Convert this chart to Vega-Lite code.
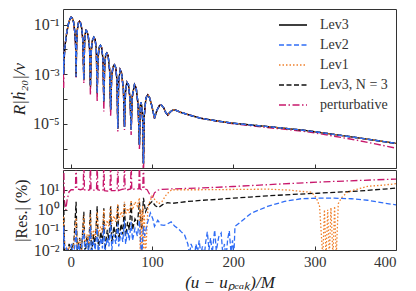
{
"$schema": "https://vega.github.io/schema/vega-lite/v6.json",
"background": "white",
"padding": {"left": 9, "top": 8, "right": 21, "bottom": 2},
"spacing": 0,
"config": {
  "view": {"stroke": "#333", "strokeWidth": 1},
  "axis": {"labelFont": "Liberation Serif", "titleFont": "Liberation Serif", "labelColor": "#333", "titleColor": "#222", "grid": false, "domain": false, "tickColor": "#333", "tickSize": -4, "labelFontSize": 15, "titleFontWeight": "normal", "labelPadding": 8},
  "legend": {"labelFont": "Liberation Serif", "labelFontSize": 14, "labelColor": "#333"}
},
"resolve": {"scale": {"color": "independent", "strokeDash": "independent", "x": "shared"}},
"vconcat": [
{
  "width": 333, "height": 159,
  "data": {"values": [
{"x":-10,"L3":0.0126,"L2":0.0126,"L1":0.0126,"N3":0.0126,"P":0.0126},
{"x":-9.3,"L3":3.98e-3,"L2":3.98e-3,"L1":3.98e-3,"N3":3.98e-3,"P":2.5e-3},
{"x":-8.7,"L3":1.0e-3,"L2":1.0e-3,"L1":1.0e-3,"N3":1.0e-3,"P":2.82e-4},
{"x":-8.0,"L3":5.01e-3,"L2":5.01e-3,"L1":5.01e-3,"N3":5.01e-3,"P":4.0e-3},
{"x":-7,"L3":0.0141,"L2":0.0141,"L1":0.0141,"N3":0.0141,"P":0.0141},
{"x":-5,"L3":0.0447,"L2":0.0447,"L1":0.0447,"N3":0.0447,"P":0.0447},
{"x":-3,"L3":0.1,"L2":0.1,"L1":0.1,"N3":0.1,"P":0.1},
{"x":-1,"L3":0.166,"L2":0.166,"L1":0.166,"N3":0.166,"P":0.166},
{"x":0.5,"L3":0.1995,"L2":0.1995,"L1":0.1995,"N3":0.1995,"P":0.1995},
{"x":2,"L3":0.178,"L2":0.178,"L1":0.178,"N3":0.178,"P":0.178},
{"x":3.5,"L3":0.126,"L2":0.126,"L1":0.126,"N3":0.126,"P":0.126},
{"x":5,"L3":0.0501,"L2":0.0501,"L1":0.0501,"N3":0.0501,"P":0.0501},
{"x":6.0,"L3":0.0158,"L2":0.0158,"L1":0.0158,"N3":0.0158,"P":0.013},
{"x":6.6,"L3":8.13e-4,"L2":8.13e-4,"L1":8.13e-4,"N3":8.13e-4,"P":6.92e-4},
{"x":7.2,"L3":0.0158,"L2":0.0158,"L1":0.0158,"N3":0.0158,"P":0.013},
{"x":8.2,"L3":0.0631,"L2":0.0631,"L1":0.0631,"N3":0.0631,"P":0.0631},
{"x":9.5,"L3":0.1175,"L2":0.1175,"L1":0.1175,"N3":0.1175,"P":0.1175},
{"x":10.7,"L3":0.135,"L2":0.135,"L1":0.135,"N3":0.135,"P":0.135},
{"x":12,"L3":0.1175,"L2":0.1175,"L1":0.1175,"N3":0.1175,"P":0.1175},
{"x":13.5,"L3":0.0708,"L2":0.0708,"L1":0.0708,"N3":0.0708,"P":0.0708},
{"x":15,"L3":0.0224,"L2":0.0224,"L1":0.0224,"N3":0.0224,"P":0.02},
{"x":16.1,"L3":6.03e-4,"L2":6.03e-4,"L1":6.03e-4,"N3":6.03e-4,"P":4.37e-4},
{"x":17.0,"L3":0.0178,"L2":0.0178,"L1":0.0178,"N3":0.0178,"P":0.016},
{"x":18,"L3":0.0447,"L2":0.0447,"L1":0.0447,"N3":0.0447,"P":0.0447},
{"x":18.9,"L3":0.0575,"L2":0.0575,"L1":0.0575,"N3":0.0575,"P":0.0575},
{"x":20,"L3":0.0525,"L2":0.0525,"L1":0.0525,"N3":0.0525,"P":0.0525},
{"x":21.5,"L3":0.0355,"L2":0.0355,"L1":0.0355,"N3":0.0355,"P":0.0355},
{"x":23.2,"L3":0.0112,"L2":0.0112,"L1":0.0112,"N3":0.0112,"P":0.01},
{"x":24.2,"L3":3.24e-4,"L2":3.24e-4,"L1":3.24e-4,"N3":3.24e-4,"P":1.48e-4},
{"x":25.2,"L3":7.94e-3,"L2":7.94e-3,"L1":7.94e-3,"N3":7.94e-3,"P":7.0e-3},
{"x":26.5,"L3":0.0224,"L2":0.0224,"L1":0.0224,"N3":0.0224,"P":0.0224},
{"x":28.4,"L3":0.0309,"L2":0.0309,"L1":0.0309,"N3":0.0309,"P":0.0309},
{"x":30,"L3":0.0251,"L2":0.0251,"L1":0.0251,"N3":0.0251,"P":0.0251},
{"x":31.5,"L3":0.01,"L2":0.01,"L1":0.01,"N3":0.01,"P":9e-3},
{"x":32.5,"L3":1.74e-4,"L2":1.74e-4,"L1":1.74e-4,"N3":1.74e-4,"P":7.94e-5},
{"x":33.5,"L3":4.47e-3,"L2":4.47e-3,"L1":4.47e-3,"N3":4.47e-3,"P":4.0e-3},
{"x":35,"L3":0.012,"L2":0.012,"L1":0.012,"N3":0.012,"P":0.012},
{"x":36.5,"L3":0.0145,"L2":0.0145,"L1":0.0145,"N3":0.0145,"P":0.0145},
{"x":38,"L3":0.012,"L2":0.012,"L1":0.012,"N3":0.012,"P":0.012},
{"x":39.7,"L3":3.98e-3,"L2":3.98e-3,"L1":3.98e-3,"N3":3.98e-3,"P":3.5e-3},
{"x":40.7,"L3":7.94e-5,"L2":7.94e-5,"L1":7.94e-5,"N3":7.94e-5,"P":3.16e-5},
{"x":41.7,"L3":2.24e-3,"L2":2.24e-3,"L1":2.24e-3,"N3":2.24e-3,"P":2.0e-3},
{"x":43,"L3":6.03e-3,"L2":6.03e-3,"L1":6.03e-3,"N3":6.03e-3,"P":6.03e-3},
{"x":44.4,"L3":7.08e-3,"L2":7.08e-3,"L1":7.08e-3,"N3":7.08e-3,"P":7.08e-3},
{"x":46,"L3":5.62e-3,"L2":5.62e-3,"L1":5.62e-3,"N3":5.62e-3,"P":5.62e-3},
{"x":47.8,"L3":1.58e-3,"L2":1.58e-3,"L1":1.58e-3,"N3":1.58e-3,"P":1.4e-3},
{"x":49.1,"L3":3.8e-5,"L2":3.8e-5,"L1":3.8e-5,"N3":3.8e-5,"P":2.0e-5},
{"x":50.3,"L3":7.94e-4,"L2":7.94e-4,"L1":7.94e-4,"N3":7.94e-4,"P":7.0e-4},
{"x":52,"L3":2.0e-3,"L2":2.0e-3,"L1":2.0e-3,"N3":2.0e-3,"P":2.0e-3},
{"x":53.8,"L3":2.4e-3,"L2":2.4e-3,"L1":2.4e-3,"N3":2.4e-3,"P":2.4e-3},
{"x":55.5,"L3":1.78e-3,"L2":1.78e-3,"L1":1.78e-3,"N3":1.78e-3,"P":1.78e-3},
{"x":57,"L3":5.01e-4,"L2":5.01e-4,"L1":5.01e-4,"N3":5.01e-4,"P":4.5e-4},
{"x":57.9,"L3":6.61e-6,"L2":6.61e-6,"L1":6.61e-6,"N3":6.61e-6,"P":5.0e-6},
{"x":58.9,"L3":5.01e-4,"L2":5.01e-4,"L1":5.01e-4,"N3":5.01e-4,"P":4.5e-4},
{"x":60.8,"L3":1.51e-3,"L2":1.51e-3,"L1":1.51e-3,"N3":1.51e-3,"P":1.51e-3},
{"x":62.5,"L3":1.12e-3,"L2":1.12e-3,"L1":1.12e-3,"N3":1.12e-3,"P":1.12e-3},
{"x":64.8,"L3":2.51e-4,"L2":2.51e-4,"L1":2.51e-4,"N3":2.51e-4,"P":2.2e-4},
{"x":66.1,"L3":7.76e-6,"L2":7.76e-6,"L1":7.76e-6,"N3":7.76e-6,"P":5.75e-6},
{"x":67.3,"L3":1.78e-4,"L2":1.78e-4,"L1":1.78e-4,"N3":1.78e-4,"P":1.6e-4},
{"x":69,"L3":4.79e-4,"L2":4.79e-4,"L1":4.79e-4,"N3":4.79e-4,"P":4.79e-4},
{"x":71,"L3":3.8e-4,"L2":3.8e-4,"L1":3.8e-4,"N3":3.8e-4,"P":3.8e-4},
{"x":73,"L3":1.0e-4,"L2":1.0e-4,"L1":1.0e-4,"N3":1.0e-4,"P":9e-5},
{"x":74.3,"L3":5.89e-6,"L2":5.89e-6,"L1":5.89e-6,"N3":5.89e-6,"P":3.63e-6},
{"x":75.6,"L3":1.26e-4,"L2":1.26e-4,"L1":1.26e-4,"N3":1.26e-4,"P":1.1e-4},
{"x":78.4,"L3":3.8e-4,"L2":3.8e-4,"L1":3.8e-4,"N3":3.8e-4,"P":3.8e-4},
{"x":80.5,"L3":2.82e-4,"L2":2.82e-4,"L1":2.82e-4,"N3":2.82e-4,"P":2.82e-4},
{"x":82.8,"L3":6.31e-5,"L2":6.31e-5,"L1":6.31e-5,"N3":6.31e-5,"P":5.5e-5},
{"x":84.5,"L3":1.45e-6,"L2":1.45e-6,"L1":1.45e-6,"N3":1.45e-6,"P":8.91e-7},
{"x":85.6,"L3":5.62e-5,"L2":5.62e-5,"L1":5.62e-5,"N3":5.62e-5,"P":5.0e-5},
{"x":86.4,"L3":7.59e-5,"L2":7.59e-5,"L1":7.59e-5,"N3":7.59e-5,"P":7.0e-5},
{"x":87.5,"L3":5.01e-5,"L2":5.01e-5,"L1":5.01e-5,"N3":5.01e-5,"P":4.5e-5},
{"x":88.6,"L3":1.26e-5,"L2":1.26e-5,"L1":1.26e-5,"N3":1.26e-5,"P":1.1e-5},
{"x":89.4,"L3":2.57e-7,"L2":2.57e-7,"L1":2.57e-7,"N3":2.57e-7,"P":3e-8},
{"x":90.3,"L3":2.0e-5,"L2":2.0e-5,"L1":2.0e-5,"N3":2.0e-5,"P":1.8e-5},
{"x":92.5,"L3":1.12e-4,"L2":1.12e-4,"L1":1.12e-4,"N3":1.12e-4,"P":1.12e-4},
{"x":94.8,"L3":1.48e-4,"L2":1.48e-4,"L1":1.48e-4,"N3":1.48e-4,"P":1.48e-4},
{"x":97,"L3":1.12e-4,"L2":1.12e-4,"L1":1.12e-4,"N3":1.12e-4,"P":1.12e-4},
{"x":100,"L3":5.01e-5,"L2":5.01e-5,"L1":5.01e-5,"N3":5.01e-5,"P":5.01e-5},
{"x":103,"L3":1.7e-5,"L2":1.7e-5,"L1":1.7e-5,"N3":1.7e-5,"P":1.7e-5},
{"x":106,"L3":3.55e-5,"L2":3.55e-5,"L1":3.55e-5,"N3":3.55e-5,"P":3.55e-5},
{"x":109,"L3":5.5e-5,"L2":5.5e-5,"L1":5.5e-5,"N3":5.5e-5,"P":5.5e-5},
{"x":111.2,"L3":5.89e-5,"L2":5.89e-5,"L1":5.89e-5,"N3":5.89e-5,"P":5.89e-5},
{"x":114,"L3":4.68e-5,"L2":4.68e-5,"L1":4.68e-5,"N3":4.68e-5,"P":4.68e-5},
{"x":117,"L3":2.82e-5,"L2":2.82e-5,"L1":2.82e-5,"N3":2.82e-5,"P":2.82e-5},
{"x":119.4,"L3":2.29e-5,"L2":2.29e-5,"L1":2.29e-5,"N3":2.29e-5,"P":2.29e-5},
{"x":122,"L3":2.95e-5,"L2":2.95e-5,"L1":2.95e-5,"N3":2.95e-5,"P":2.95e-5},
{"x":125,"L3":3.55e-5,"L2":3.55e-5,"L1":3.55e-5,"N3":3.55e-5,"P":3.55e-5},
{"x":127.6,"L3":3.72e-5,"L2":3.72e-5,"L1":3.72e-5,"N3":3.72e-5,"P":3.72e-5},
{"x":131,"L3":3.39e-5,"L2":3.39e-5,"L1":3.39e-5,"N3":3.39e-5,"P":3.39e-5},
{"x":135,"L3":2.95e-5,"L2":2.95e-5,"L1":2.95e-5,"N3":2.95e-5,"P":2.95e-5},
{"x":140,"L3":2.63e-5,"L2":2.63e-5,"L1":2.63e-5,"N3":2.63e-5,"P":2.63e-5},
{"x":150,"L3":2.09e-5,"L2":2.09e-5,"L1":2.09e-5,"N3":2.09e-5,"P":2.09e-5},
{"x":160,"L3":1.7e-5,"L2":1.7e-5,"L1":1.7e-5,"N3":1.7e-5,"P":1.7e-5},
{"x":180,"L3":1.32e-5,"L2":1.32e-5,"L1":1.32e-5,"N3":1.32e-5,"P":1.3e-5},
{"x":200,"L3":1.07e-5,"L2":1.07e-5,"L1":1.07e-5,"N3":1.07e-5,"P":1.02e-5},
{"x":250,"L3":7.41e-6,"L2":7.41e-6,"L1":7.41e-6,"N3":7.41e-6,"P":6.76e-6},
{"x":283,"L3":5.75e-6,"L2":5.75e-6,"L1":5.75e-6,"N3":5.75e-6,"P":5.25e-6},
{"x":300,"L3":4.9e-6,"L2":4.9e-6,"L1":4.9e-6,"N3":4.9e-6,"P":4.4e-6},
{"x":350,"L3":2.88e-6,"L2":2.88e-6,"L1":2.88e-6,"N3":2.88e-6,"P":2.3e-6},
{"x":400,"L3":1.66e-6,"L2":1.66e-6,"L1":1.66e-6,"N3":1.66e-6,"P":1.07e-6}
  ]},
  "transform": [{"fold": ["P", "N3", "L3", "L1", "L2"], "as": ["s", "v"]}],
  "mark": {"type": "line", "clip": true, "strokeWidth": 1.4},
  "encoding": {
    "x": {"field": "x", "type": "quantitative", "scale": {"domain": [-9.5, 400], "nice": false, "zero": false}, "axis": {"values": [0, 100, 200, 300, 400], "labels": false, "title": null, "minExtent": 0, "maxExtent": 0}},
    "y": {"field": "v", "type": "quantitative", "scale": {"type": "log", "domain": [1.7e-7, 0.42], "nice": false}, "axis": {"values": [1e-6, 1e-5, 1e-4, 1e-3, 1e-2, 1e-1], "labelFontSize": 16, "labelExpr": "datum.value > 0.05 ? '10⁻¹' : (datum.value > 0.0005 && datum.value < 0.005) ? '10⁻³' : (datum.value > 0.000005 && datum.value < 0.00005) ? '10⁻⁵' : ''", "title": "R|ḣ₂₀|/ν", "titleFontSize": 17, "titleFontStyle": "italic", "titlePadding": 4}},
    "color": {"field": "s", "type": "nominal", "scale": {"domain": ["L3", "L2", "L1", "N3", "P"], "range": ["#000000", "#2f6df6", "#f0802c", "#111111", "#c8186c"]},
      "legend": {"orient": "top-right", "offset": 8, "title": null, "symbolType": "M-2,0H2", "symbolSize": 196, "symbolStrokeWidth": 1.6, "labelOffset": 19, "rowPadding": 5, "labelExpr": "datum.label == 'L3' ? 'Lev3' : datum.label == 'L2' ? 'Lev2' : datum.label == 'L1' ? 'Lev1' : datum.label == 'N3' ? 'Lev3, N = 3' : 'perturbative'"}},
    "strokeDash": {"field": "s", "type": "nominal", "scale": {"domain": ["L3", "L2", "L1", "N3", "P"], "range": [[1, 0], [5, 2.5], [1.5, 2], [5, 2.5], [7, 2.5, 1.5, 2.5]]},
      "legend": {"orient": "top-right", "offset": 8, "title": null, "symbolType": "M-2,0H2", "symbolSize": 196, "symbolStrokeWidth": 1.6, "labelOffset": 19, "rowPadding": 5, "labelExpr": "datum.label == 'L3' ? 'Lev3' : datum.label == 'L2' ? 'Lev2' : datum.label == 'L1' ? 'Lev1' : datum.label == 'N3' ? 'Lev3, N = 3' : 'perturbative'"}}
  }
},
{
  "width": 333, "height": 80,
  "data": {"values": [
{"s":"P","x":-9.5,"v":300},{"s":"P","x":-8.7,"v":300},{"s":"P","x":-7.8,"v":3},{"s":"P","x":-6,"v":1.0},{"s":"P","x":-4.5,"v":3},{"s":"P","x":-2,"v":8},{"s":"P","x":0.5,"v":10},{"s":"P","x":4,"v":10},{"s":"P","x":5.8,"v":12},{"s":"P","x":6.6,"v":300},{"s":"P","x":7.4,"v":11},{"s":"P","x":12,"v":10},{"s":"P","x":15.3,"v":11},{"s":"P","x":16.1,"v":300},{"s":"P","x":16.9,"v":10},{"s":"P","x":20,"v":9},{"s":"P","x":23.4,"v":10},{"s":"P","x":24.2,"v":300},{"s":"P","x":25,"v":10},{"s":"P","x":29,"v":9.5},{"s":"P","x":31.7,"v":10},{"s":"P","x":32.5,"v":300},{"s":"P","x":33.3,"v":10},{"s":"P","x":37,"v":9},{"s":"P","x":39.9,"v":10},{"s":"P","x":40.7,"v":300},{"s":"P","x":41.5,"v":9},{"s":"P","x":45,"v":8.5},{"s":"P","x":48.3,"v":9},{"s":"P","x":49.1,"v":300},{"s":"P","x":49.9,"v":9},{"s":"P","x":54,"v":9},{"s":"P","x":57.1,"v":10},{"s":"P","x":57.9,"v":300},{"s":"P","x":58.7,"v":9},{"s":"P","x":62,"v":10},{"s":"P","x":65.3,"v":11},{"s":"P","x":66.1,"v":300},{"s":"P","x":66.9,"v":10},{"s":"P","x":70,"v":10},{"s":"P","x":73.5,"v":11},{"s":"P","x":74.3,"v":300},{"s":"P","x":75.1,"v":10},{"s":"P","x":79,"v":11},{"s":"P","x":83.7,"v":11},{"s":"P","x":84.5,"v":300},{"s":"P","x":85.3,"v":11},{"s":"P","x":87,"v":10},{"s":"P","x":88.6,"v":11},{"s":"P","x":89.4,"v":300},{"s":"P","x":90.2,"v":11},{"s":"P","x":94,"v":10},{"s":"P","x":97,"v":6},{"s":"P","x":100,"v":3.5},{"s":"P","x":103,"v":7},{"s":"P","x":107,"v":9.5},{"s":"P","x":112,"v":10.5},{"s":"P","x":125,"v":11},{"s":"P","x":160,"v":12.2},{"s":"P","x":200,"v":14.5},{"s":"P","x":242,"v":17.8},{"s":"P","x":280,"v":21.5},{"s":"P","x":324,"v":26},{"s":"P","x":360,"v":29.5},{"s":"P","x":400,"v":34},
{"s":"N3","x":-9.5,"v":0.3},{"s":"N3","x":-8.7,"v":3},{"s":"N3","x":-7.5,"v":0.01},{"s":"N3","x":-5,"v":0.004},{"s":"N3","x":-2,"v":0.02},{"s":"N3","x":1,"v":0.008},{"s":"N3","x":4,"v":0.03},{"s":"N3","x":6.6,"v":2.5},{"s":"N3","x":8,"v":0.01},{"s":"N3","x":11,"v":0.04},{"s":"N3","x":13,"v":0.006},{"s":"N3","x":16.1,"v":0.8},{"s":"N3","x":17.5,"v":0.005},{"s":"N3","x":20,"v":0.05},{"s":"N3","x":22,"v":0.01},{"s":"N3","x":24.2,"v":1.0},{"s":"N3","x":25.5,"v":0.006},{"s":"N3","x":28,"v":0.06},{"s":"N3","x":30,"v":0.015},{"s":"N3","x":32.5,"v":1.5},{"s":"N3","x":34,"v":0.01},{"s":"N3","x":37,"v":0.08},{"s":"N3","x":39,"v":0.02},{"s":"N3","x":40.7,"v":1.2},{"s":"N3","x":42,"v":0.01},{"s":"N3","x":45,"v":0.1},{"s":"N3","x":47,"v":0.03},{"s":"N3","x":49.1,"v":1.5},{"s":"N3","x":50.5,"v":0.02},{"s":"N3","x":53,"v":0.15},{"s":"N3","x":55.5,"v":0.04},{"s":"N3","x":57.9,"v":1.8},{"s":"N3","x":59,"v":0.03},{"s":"N3","x":62,"v":0.2},{"s":"N3","x":64,"v":0.06},{"s":"N3","x":66.1,"v":2.0},{"s":"N3","x":67.5,"v":0.05},{"s":"N3","x":70,"v":0.25},{"s":"N3","x":72,"v":0.1},{"s":"N3","x":74.3,"v":2.2},{"s":"N3","x":76,"v":0.1},{"s":"N3","x":79,"v":0.35},{"s":"N3","x":82,"v":0.2},{"s":"N3","x":84.5,"v":2.5},{"s":"N3","x":86,"v":0.3},{"s":"N3","x":87.5,"v":0.1},{"s":"N3","x":89.4,"v":4},{"s":"N3","x":92,"v":0.8},{"s":"N3","x":96,"v":1.8},{"s":"N3","x":100,"v":2.6},{"s":"N3","x":104,"v":1.6},{"s":"N3","x":108,"v":1.3},{"s":"N3","x":113,"v":1.8},{"s":"N3","x":119,"v":2.3},{"s":"N3","x":125,"v":2.1},{"s":"N3","x":132,"v":2.3},{"s":"N3","x":144,"v":2.6},{"s":"N3","x":160,"v":2.95},{"s":"N3","x":180,"v":3.3},{"s":"N3","x":200,"v":3.85},{"s":"N3","x":220,"v":4.3},{"s":"N3","x":242,"v":5.0},{"s":"N3","x":262,"v":5.5},{"s":"N3","x":283,"v":6.1},{"s":"N3","x":304,"v":6.7},{"s":"N3","x":324,"v":7.4},{"s":"N3","x":345,"v":8.2},{"s":"N3","x":365,"v":9.3},{"s":"N3","x":385,"v":10.8},{"s":"N3","x":400,"v":12},
{"s":"L1","x":-9.5,"v":0.05},{"s":"L1","x":-8.7,"v":0.5},{"s":"L1","x":-7.5,"v":0.02},{"s":"L1","x":-5,"v":0.008},{"s":"L1","x":-2,"v":0.015},{"s":"L1","x":1,"v":0.006},{"s":"L1","x":4,"v":0.02},{"s":"L1","x":6.6,"v":0.4},{"s":"L1","x":8,"v":0.015},{"s":"L1","x":11,"v":0.035},{"s":"L1","x":13,"v":0.01},{"s":"L1","x":16.1,"v":0.5},{"s":"L1","x":17.5,"v":0.02},{"s":"L1","x":20,"v":0.06},{"s":"L1","x":22,"v":0.02},{"s":"L1","x":24.2,"v":0.6},{"s":"L1","x":25.5,"v":0.03},{"s":"L1","x":28,"v":0.1},{"s":"L1","x":30,"v":0.04},{"s":"L1","x":32.5,"v":0.8},{"s":"L1","x":34,"v":0.06},{"s":"L1","x":37,"v":0.15},{"s":"L1","x":39,"v":0.07},{"s":"L1","x":40.7,"v":1.0},{"s":"L1","x":42,"v":0.1},{"s":"L1","x":45,"v":0.3},{"s":"L1","x":47,"v":0.15},{"s":"L1","x":49.1,"v":1.5},{"s":"L1","x":50.5,"v":0.2},{"s":"L1","x":53,"v":0.5},{"s":"L1","x":55.5,"v":0.25},{"s":"L1","x":57.9,"v":2},{"s":"L1","x":59,"v":0.3},{"s":"L1","x":62,"v":0.8},{"s":"L1","x":64,"v":0.4},{"s":"L1","x":66.1,"v":2.5},{"s":"L1","x":67.5,"v":0.6},{"s":"L1","x":70,"v":1.2},{"s":"L1","x":72,"v":0.7},{"s":"L1","x":74.3,"v":3},{"s":"L1","x":76,"v":1.0},{"s":"L1","x":79,"v":2.5},{"s":"L1","x":82,"v":1.5},{"s":"L1","x":84.5,"v":4},{"s":"L1","x":85.5,"v":0.004},{"s":"L1","x":86.5,"v":1},{"s":"L1","x":87.5,"v":0.004},{"s":"L1","x":88.5,"v":1.5},{"s":"L1","x":89.4,"v":0.004},{"s":"L1","x":90.5,"v":0.6},{"s":"L1","x":92,"v":0.004},{"s":"L1","x":95,"v":1.5},{"s":"L1","x":100,"v":4.8},{"s":"L1","x":104,"v":3},{"s":"L1","x":108,"v":2},{"s":"L1","x":112,"v":2.5},{"s":"L1","x":118,"v":6},{"s":"L1","x":124,"v":10},{"s":"L1","x":140,"v":10},{"s":"L1","x":160,"v":10},{"s":"L1","x":200,"v":10.3},{"s":"L1","x":242,"v":10.7},{"s":"L1","x":270,"v":9.5},{"s":"L1","x":283,"v":8.3},{"s":"L1","x":296,"v":7.5},{"s":"L1","x":302,"v":4},{"s":"L1","x":306,"v":1.5},{"s":"L1","x":310,"v":0.004},{"s":"L1","x":312,"v":1},{"s":"L1","x":314,"v":0.004},{"s":"L1","x":316,"v":1},{"s":"L1","x":318,"v":0.004},{"s":"L1","x":320,"v":1.3},{"s":"L1","x":322.5,"v":0.004},{"s":"L1","x":324.5,"v":1.5},{"s":"L1","x":326.5,"v":0.004},{"s":"L1","x":329,"v":2},{"s":"L1","x":333,"v":4},{"s":"L1","x":340,"v":7.5},{"s":"L1","x":350,"v":10},{"s":"L1","x":365,"v":14.8},{"s":"L1","x":385,"v":17},{"s":"L1","x":400,"v":20},
{"s":"L2","x":-9.5,"v":0.015},{"s":"L2","x":-8.7,"v":0.15},{"s":"L2","x":-7.5,"v":0.004},{"s":"L2","x":-5,"v":0.012},{"s":"L2","x":-2,"v":0.006},{"s":"L2","x":1,"v":0.02},{"s":"L2","x":3,"v":0.005},{"s":"L2","x":5,"v":0.015},{"s":"L2","x":6.6,"v":0.12},{"s":"L2","x":8,"v":0.004},{"s":"L2","x":10,"v":0.02},{"s":"L2","x":12,"v":0.006},{"s":"L2","x":14,"v":0.025},{"s":"L2","x":16.1,"v":0.1},{"s":"L2","x":17.5,"v":0.005},{"s":"L2","x":20,"v":0.03},{"s":"L2","x":22,"v":0.008},{"s":"L2","x":24.2,"v":0.15},{"s":"L2","x":25.5,"v":0.006},{"s":"L2","x":28,"v":0.03},{"s":"L2","x":30,"v":0.01},{"s":"L2","x":32.5,"v":0.12},{"s":"L2","x":34,"v":0.008},{"s":"L2","x":37,"v":0.04},{"s":"L2","x":39,"v":0.012},{"s":"L2","x":40.7,"v":0.18},{"s":"L2","x":42,"v":0.008},{"s":"L2","x":45,"v":0.04},{"s":"L2","x":47,"v":0.015},{"s":"L2","x":49.1,"v":0.25},{"s":"L2","x":50.5,"v":0.01},{"s":"L2","x":53,"v":0.06},{"s":"L2","x":55.5,"v":0.02},{"s":"L2","x":57.9,"v":0.2},{"s":"L2","x":59,"v":0.015},{"s":"L2","x":62,"v":0.08},{"s":"L2","x":64,"v":0.025},{"s":"L2","x":66.1,"v":0.3},{"s":"L2","x":67.5,"v":0.02},{"s":"L2","x":70,"v":0.1},{"s":"L2","x":72,"v":0.03},{"s":"L2","x":74.3,"v":0.25},{"s":"L2","x":76,"v":0.03},{"s":"L2","x":79,"v":0.12},{"s":"L2","x":82,"v":0.05},{"s":"L2","x":84.5,"v":0.3},{"s":"L2","x":86,"v":0.02},{"s":"L2","x":87.5,"v":0.006},{"s":"L2","x":89.4,"v":0.15},{"s":"L2","x":91,"v":0.05},{"s":"L2","x":94,"v":0.2},{"s":"L2","x":98,"v":0.7},{"s":"L2","x":101,"v":0.35},{"s":"L2","x":103,"v":0.15},{"s":"L2","x":107,"v":0.3},{"s":"L2","x":111,"v":0.18},{"s":"L2","x":115,"v":0.17},{"s":"L2","x":119,"v":0.2},{"s":"L2","x":123.5,"v":0.25},{"s":"L2","x":128,"v":0.15},{"s":"L2","x":132,"v":0.12},{"s":"L2","x":136,"v":0.08},{"s":"L2","x":140,"v":0.056},{"s":"L2","x":144,"v":0.02},{"s":"L2","x":146,"v":0.006},{"s":"L2","x":148,"v":0.02},{"s":"L2","x":150,"v":0.012},{"s":"L2","x":152,"v":0.004},{"s":"L2","x":154,"v":0.02},{"s":"L2","x":156,"v":0.008},{"s":"L2","x":158,"v":0.03},{"s":"L2","x":160,"v":0.006},{"s":"L2","x":162,"v":0.015},{"s":"L2","x":164,"v":0.004},{"s":"L2","x":166,"v":0.025},{"s":"L2","x":168,"v":0.08},{"s":"L2","x":170,"v":0.01},{"s":"L2","x":172,"v":0.04},{"s":"L2","x":174,"v":0.007},{"s":"L2","x":177,"v":0.1},{"s":"L2","x":179,"v":0.009},{"s":"L2","x":182,"v":0.045},{"s":"L2","x":185,"v":0.07},{"s":"L2","x":187,"v":0.006},{"s":"L2","x":189,"v":0.02},{"s":"L2","x":191,"v":0.004},{"s":"L2","x":193,"v":0.035},{"s":"L2","x":195,"v":0.09},{"s":"L2","x":197,"v":0.008},{"s":"L2","x":199,"v":0.03},{"s":"L2","x":200.5,"v":0.004},{"s":"L2","x":202,"v":0.15},{"s":"L2","x":210,"v":0.27},{"s":"L2","x":222,"v":0.68},{"s":"L2","x":242,"v":1.48},{"s":"L2","x":263,"v":2.63},{"s":"L2","x":283,"v":3.55},{"s":"L2","x":304,"v":3.8},{"s":"L2","x":324,"v":3.8},{"s":"L2","x":345,"v":3.55},{"s":"L2","x":365,"v":3.0},{"s":"L2","x":386,"v":2.14},{"s":"L2","x":400,"v":1.78}
  ]},
  "mark": {"type": "line", "clip": true, "strokeWidth": 1.3},
  "encoding": {
    "x": {"field": "x", "type": "quantitative", "scale": {"domain": [-9.5, 400], "nice": false, "zero": false}, "axis": {"values": [0, 100, 200, 300, 400], "labelPadding": 8, "title": "(u − uₚₑₐₖ)/M", "titleFontSize": 17, "titleFontStyle": "italic", "titlePadding": 5}},
    "y": {"field": "v", "type": "quantitative", "scale": {"type": "log", "domain": [0.01, 96], "nice": false}, "axis": {"values": [0.01, 0.1, 1, 10], "labelFontSize": 16, "labelExpr": "datum.value < 0.05 ? '10⁻²' : datum.value < 0.5 ? '10⁻¹' : datum.value < 5 ? '10⁰' : '10¹'", "title": "|Res.| (%)", "titleFontSize": 16, "titlePadding": 4}},
    "color": {"field": "s", "type": "nominal", "scale": {"domain": ["L2", "L1", "N3", "P"], "range": ["#2f6df6", "#f0802c", "#111111", "#c8186c"]}, "legend": null},
    "strokeDash": {"field": "s", "type": "nominal", "scale": {"domain": ["L2", "L1", "N3", "P"], "range": [[5, 2.5], [1.5, 2], [5, 2.5], [7, 2.5, 1.5, 2.5]]}, "legend": null}
  }
}
]
}
